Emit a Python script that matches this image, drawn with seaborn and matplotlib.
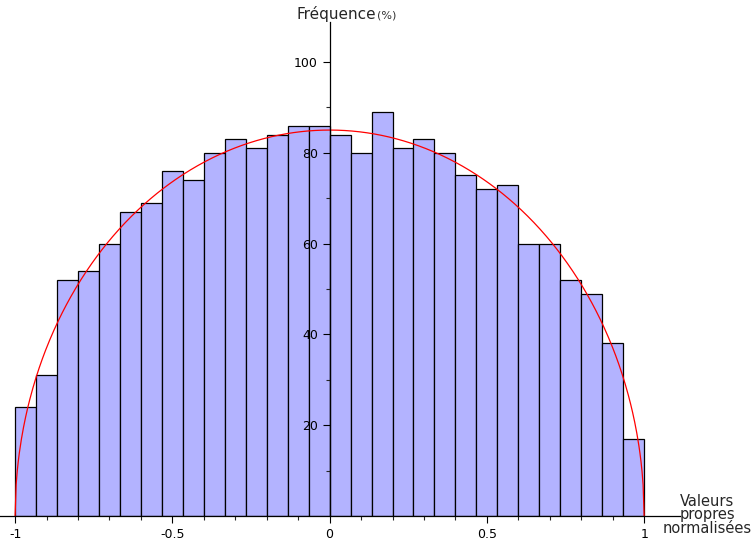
import numpy as np
import pandas as pd
import matplotlib
matplotlib.use('Agg')
import matplotlib.pyplot as plt
import seaborn as sns

# bar heights (%) for 30 equal bins on [-1, 1]
heights = [24, 31, 52, 54, 60, 67, 69, 76, 74, 80,
           83, 81, 84, 86, 86, 84, 80, 89, 81, 83,
           80, 75, 72, 73, 60, 60, 52, 49, 38, 17]
n_bins = 30
x_min, x_max = -1, 1
curve_peak = 85  # semicircle height

edges = np.linspace(x_min, x_max, n_bins + 1)
centers = (edges[:-1] + edges[1:]) / 2
df = pd.DataFrame({'valeur': centers, 'freq': heights})

sns.set_style('white')
plt.rcParams['font.family'] = ['DejaVu Sans']

fig = plt.figure(figsize=(7.51, 5.44), dpi=100)
ax = fig.add_axes([0, 28 / 544, 680 / 751, 494 / 544])

sns.histplot(data=df, x='valeur', weights='freq', bins=n_bins, binrange=(x_min, x_max),
             ax=ax, color='#b3b3ff', edgecolor='black', linewidth=0.9, alpha=1)

xs = np.linspace(-1, 1, 600)
ax.plot(xs, curve_peak * np.sqrt(1 - xs ** 2), color='red', lw=0.9)

ax.set_xlim(-1.048, 1.114)
ax.set_ylim(0, 108.8)
ax.set_axisbelow(False)

ax.spines['left'].set_position(('data', 0))
ax.spines['bottom'].set_position(('data', 0))
ax.spines['top'].set_visible(False)
ax.spines['right'].set_visible(False)
for s in ['left', 'bottom']:
    ax.spines[s].set_color('black')
    ax.spines[s].set_linewidth(0.9)
    ax.spines[s].set_zorder(5)

ax.set_xticks([-1, -0.5, 0, 0.5, 1])
ax.set_xticklabels(['-1', '-0.5', '0', '0.5', '1'])
ax.set_xticks(np.arange(-1, 1.01, 0.1), minor=True)
ax.set_yticks([20, 40, 60, 80, 100])
ax.set_yticks([10, 30, 50, 70, 90], minor=True)
ax.tick_params(axis='both', which='major', direction='out', length=5, width=0.8,
               labelsize=9, colors='black', bottom=True, left=True)
ax.tick_params(axis='both', which='minor', direction='out', length=3, width=0.8,
               bottom=True, left=True)
ax.set_xlabel('')
ax.set_ylabel('')

fig.text(296 / 751, 1 - 14 / 544, 'Fréquence', fontsize=11, ha='left', va='center')
fig.text(377 / 751, 1 - 16 / 544, '(%)', fontsize=8, ha='left', va='center', color='#333333')
fig.text(707 / 751, 1 - 515 / 544, 'Valeurs\npropres\nnormalisées', fontsize=10.5,
         ha='center', va='center', linespacing=0.9)

fig.savefig('out.png', dpi=100)
